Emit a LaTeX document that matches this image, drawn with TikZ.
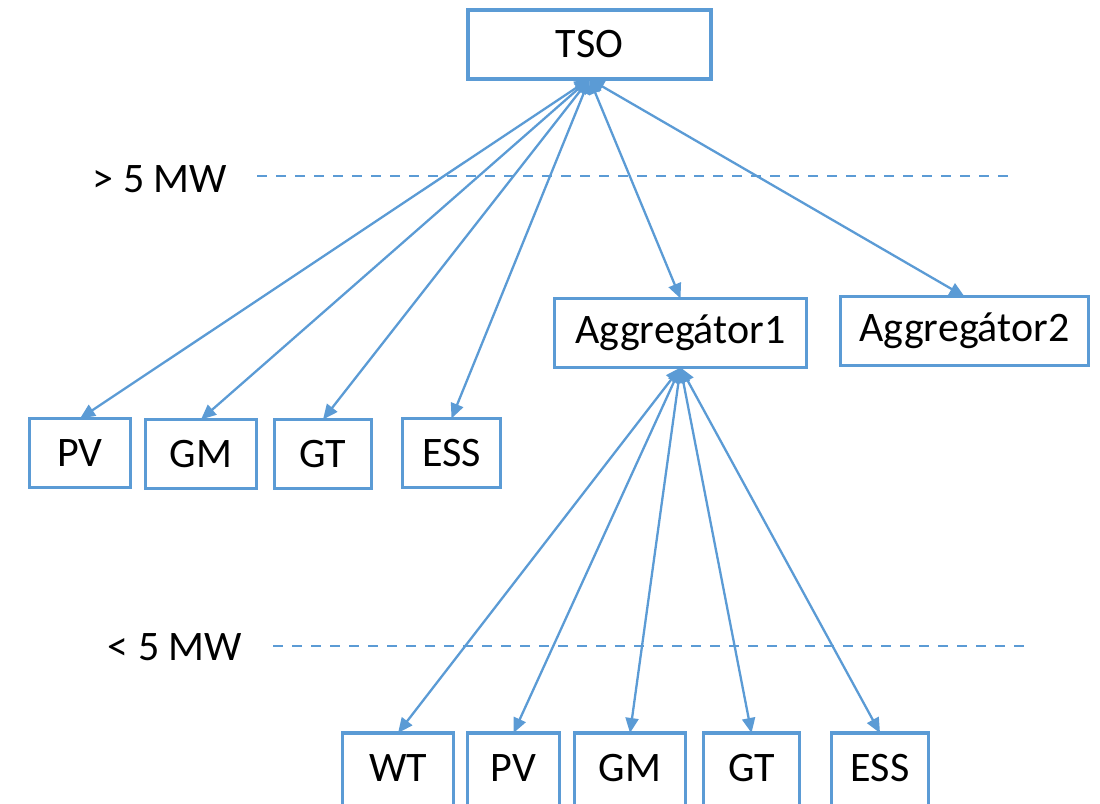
\documentclass[tikz,border=0pt]{standalone}
\usepackage{fontspec}
\setmainfont{Carlito}
\usetikzlibrary{arrows.meta}
\definecolor{obl}{HTML}{5B9BD5}
\tikzset{
  box/.style={draw=obl, line width=3.5pt, fill=white, inner sep=0pt, outer sep=0pt,
    minimum height=69pt, font=\fontsize{42}{50}\selectfont},
  conn/.style={draw=obl, line width=2.3pt, {Triangle[length=15pt,width=13pt]}-{Triangle[length=15pt,width=13pt]}},
  sep/.style={draw=obl, line width=2.5pt, dash pattern=on 10pt off 9pt},
  lbl/.style={font=\fontsize{42}{50}\selectfont, inner sep=0pt}
}
\begin{document}
\begin{tikzpicture}[x=1pt,y=-1pt]
\useasboundingbox (0,0) rectangle (1100,803);
\clip (0,0) rectangle (1100,803);
% separators
\coordinate (s1a) at (257,176);
\coordinate (s1b) at (1012,176);
\coordinate (s2a) at (273,646);
\coordinate (s2b) at (1030,646);
\draw[sep] (s1a) -- (s1b);
\draw[sep] (s2a) -- (s2b);
\node[lbl] (l1) at (160,179) {> 5 MW};
\node[lbl] (l2) at (175,647) {< 5 MW};
% boxes
\node[box, minimum width=243pt] (tso) at (589.5,44.5) {TSO};
\node[box, minimum width=252pt] (ag1) at (680.5,333) {Aggregátor1};
\node[box, minimum width=248pt] (ag2) at (964.5,331) {Aggregátor2};
\node[box, minimum width=101pt] (pv1) at (80,453) {PV};
\node[box, minimum width=111pt] (gm1) at (201,454) {GM};
\node[box, minimum width=97pt] (gt1) at (323,454) {GT};
\node[box, minimum width=98pt] (es1) at (451.5,453) {ESS};
\node[box, minimum width=111pt, minimum height=80pt] (wt2) at (398,773) {};
\node[box, minimum width=92pt, minimum height=80pt] (pv2) at (513.5,773) {};
\node[box, minimum width=111pt, minimum height=80pt] (gm2) at (630,773) {};
\node[box, minimum width=96pt, minimum height=80pt] (gt2) at (751.5,773) {};
\node[box, minimum width=97pt, minimum height=80pt] (es2) at (880,773) {};
\node[lbl] (t1) at (398,768) {WT};
\node[lbl] (t2) at (513.5,768) {PV};
\node[lbl] (t3) at (630,768) {GM};
\node[lbl] (t4) at (751.5,768) {GT};
\node[lbl] (t5) at (880,768) {ESS};
% connectors
\foreach \t in {pv1,gm1,gt1,es1,ag1,ag2}
  \draw[conn] (tso.south) -- (\t.north);
\foreach \t in {wt2,pv2,gm2,gt2,es2}
  \draw[conn] (ag1.south) -- (\t.north);
\end{tikzpicture}
\end{document}
